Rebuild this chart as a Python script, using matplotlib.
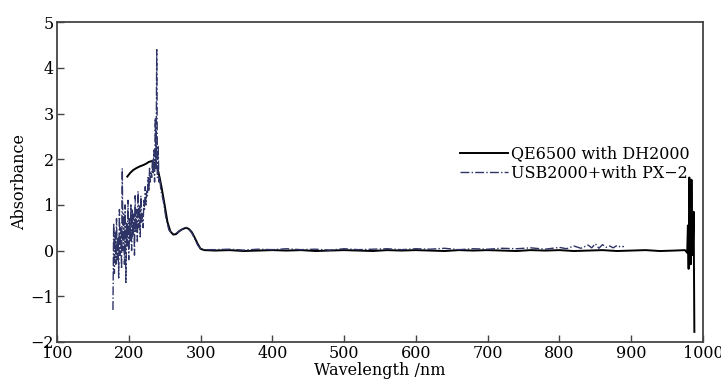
import matplotlib
matplotlib.use("Agg")
import matplotlib.pyplot as plt

# QE6500 with DH2000 (solid black)
qe_wl = [198, 202, 206, 210, 215, 220, 224, 228, 232, 236, 240, 243, 246, 250, 254, 258,
         262, 266, 270, 275, 280, 284, 288, 292, 296, 300, 305, 320, 340, 360, 380, 400,
         420, 440, 460, 480, 500, 520, 540, 560, 580, 600, 620, 640, 660, 680, 700, 720,
         740, 760, 780, 800, 820, 840, 860, 880, 900, 920, 940, 960, 975, 978, 979, 980,
         981, 982, 983, 984, 985, 986, 987, 988]
qe_abs = [1.62, 1.70, 1.76, 1.80, 1.84, 1.87, 1.90, 1.94, 1.96, 1.92, 1.80, 1.60, 1.36, 1.00, 0.62, 0.42,
          0.35, 0.36, 0.42, 0.47, 0.50, 0.47, 0.40, 0.28, 0.15, 0.04, 0.01, 0.00, 0.01, -0.01, 0.00, 0.01,
          0.00, 0.01, -0.01, 0.00, 0.01, 0.00, -0.01, 0.01, 0.00, 0.01, 0.00, -0.01, 0.01, 0.00, 0.01, 0.00,
          -0.01, 0.01, 0.00, 0.01, -0.01, 0.00, 0.01, -0.01, 0.00, 0.01, -0.01, 0.00, 0.01, -0.05, 0.55, -0.40,
          1.60, 0.20, -0.30, 1.55, -0.10, 0.05, 0.85, -1.78]

# USB2000+ with PX-2 (dash-dot navy)
usb_wl = [178, 179, 180, 181, 182, 183, 184, 185, 186, 187, 188, 189, 190, 191, 192, 193,
          194, 195, 196, 197, 198, 199, 200, 201, 202, 203, 204, 205, 206, 207, 208, 209,
          210, 211, 212, 213, 214, 215, 216, 217, 218, 219, 220, 221, 222, 223, 224, 225,
          226, 227, 228, 229, 230, 231, 232, 233, 234, 235, 236, 237, 238, 239, 240, 241,
          242, 243, 245, 248, 252, 256, 260, 264, 268, 272, 276, 280, 284, 288, 292, 296,
          300, 305, 320, 340, 360, 380, 400, 420, 440, 460, 480, 500, 520, 540, 560, 580,
          600, 620, 640, 660, 680, 700, 720, 740, 760, 780, 800, 810, 820, 830, 840, 845,
          850, 855, 860, 865, 870, 875, 880, 885, 890]
usb_abs = [-1.30, 0.60, -0.50, 0.40, -0.30, 0.70, -0.20, 0.30, -0.60, 0.90, -0.10, 0.50, -0.40, 1.80, 0.00, 0.80,
           -0.30, 1.00, -0.70, 0.60, 0.10, 1.10, -0.20, 0.70, 0.20, 1.00, 0.00, 0.90, 0.30, 0.80, -0.10, 1.20,
           0.40, 0.90, 0.20, 1.30, 0.50, 1.00, 0.30, 1.20, 0.60, 0.80, 0.50, 1.10, 0.90, 1.40, 1.00, 1.30,
           1.20, 1.60, 1.30, 1.80, 1.50, 1.70, 1.60, 2.00, 1.70, 2.20, 1.50, 2.90, 1.80, 4.40, 1.60, 2.30,
           1.50, 1.60, 1.30, 1.10, 0.70, 0.45, 0.38, 0.36, 0.40, 0.45, 0.48, 0.50, 0.46, 0.38, 0.26, 0.12,
           0.04, 0.02, 0.02, 0.03, 0.01, 0.03, 0.02, 0.04, 0.02, 0.03, 0.01, 0.04, 0.02, 0.03, 0.04, 0.02,
           0.04, 0.03, 0.05, 0.02, 0.04, 0.03, 0.05, 0.04, 0.06, 0.03, 0.07, 0.04, 0.10, 0.05, 0.12, 0.06,
           0.15, 0.05, 0.13, 0.07, 0.10, 0.06, 0.11, 0.08, 0.09]

xticks = [100, 200, 300, 400, 500, 600, 700, 800, 900, 1000]
yticks = [-2, -1, 0, 1, 2, 3, 4, 5]

plt.rcParams['font.family'] = ['DejaVu Serif']
fig = plt.figure(figsize=(7.21, 3.89), dpi=100)
ax = fig.add_axes([0.079, 0.121, 0.896, 0.822])

ax.plot(qe_wl, qe_abs, color='black', lw=1.4, label='QE6500 with DH2000')
ax.plot(usb_wl, usb_abs, color='#2e3466', lw=1.0, ls='-.', label='USB2000+with PX\u22122')

ax.set_xlim(100, 1000)
ax.set_ylim(-2, 5)
ax.set_xticks(xticks)
ax.set_yticks(yticks)
ax.set_yticklabels(['\u22122', '\u22121', '0', '1', '2', '3', '4', '5'])
ax.tick_params(direction='in', length=5, width=1.0, labelsize=11.5, pad=2, color='#444444')
for s in ax.spines.values():
    s.set_color('#444444')
    s.set_linewidth(1.3)

ax.set_xlabel('Wavelength /nm', fontsize=11.5, labelpad=0)
ax.set_ylabel('Absorbance', fontsize=11.5, labelpad=2)

ax.legend(loc='upper right', bbox_to_anchor=(0.98, 0.615), frameon=False,
          fontsize=11.5, handlelength=3.0, handletextpad=0.2, labelspacing=0.15,
          borderpad=0, borderaxespad=0)

fig.savefig('out.png', dpi=100)
